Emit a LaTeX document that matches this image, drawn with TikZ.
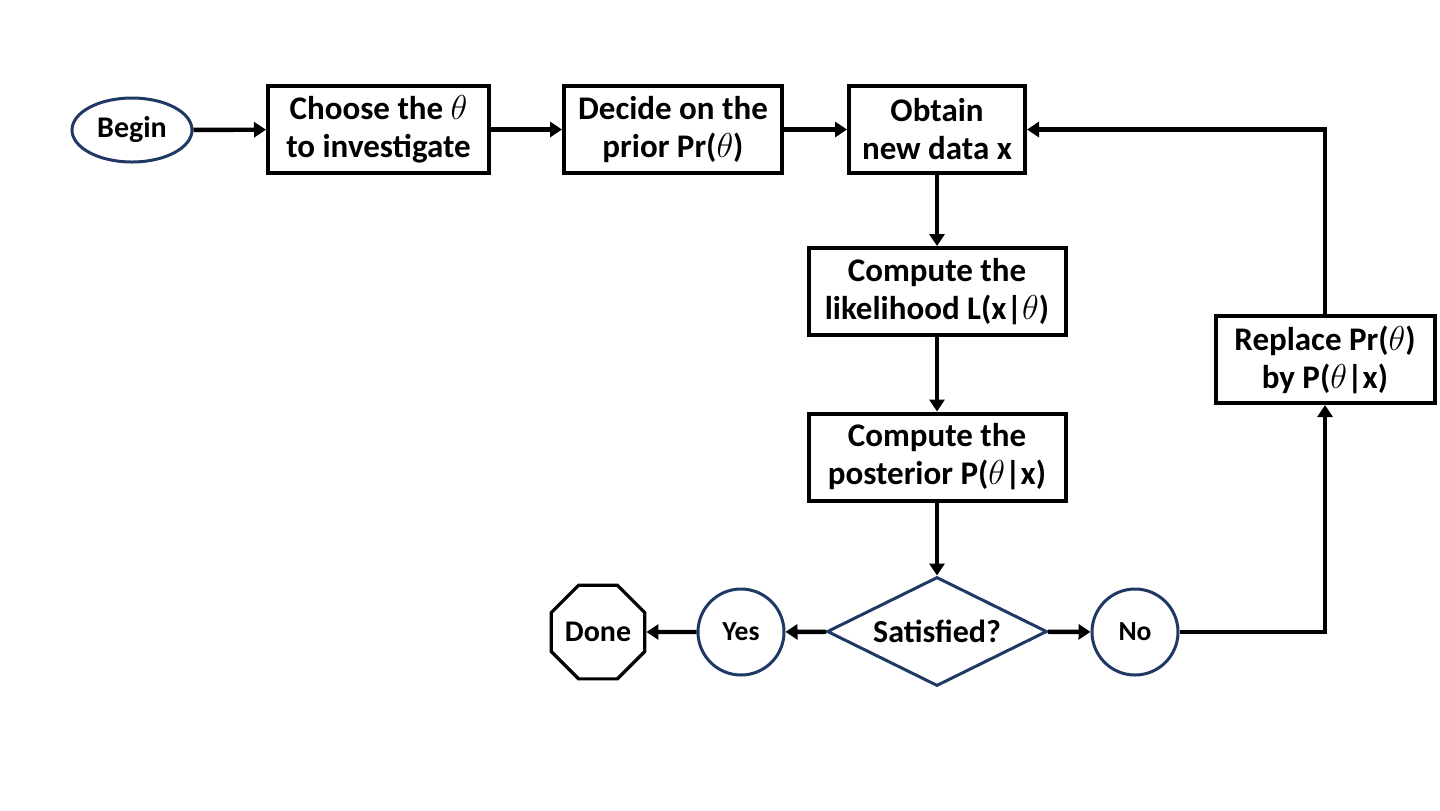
\documentclass[tikz,border=0pt]{standalone}
\usepackage{fontspec}
\setmainfont{Carlito}
\usetikzlibrary{arrows.meta,shapes.geometric,positioning}
\definecolor{navy}{HTML}{1F3864}
\begin{document}
\begin{tikzpicture}[x=0.5pt,y=-0.5pt,
  every node/.style={font=\bfseries\fontsize{16.5pt}{19pt}\selectfont, align=center, inner sep=0pt},
  stepbox/.style={draw=black, line width=2pt, rectangle, minimum height=43.5pt},
  term/.style={draw=navy, line width=1.5pt, ellipse, minimum width=60pt, minimum height=32pt,
    font=\bfseries\fontsize{15pt}{17pt}\selectfont},
  answer/.style={draw=navy, line width=1.5pt, circle, minimum size=43pt,
    font=\bfseries\fontsize{13.8pt}{16pt}\selectfont},
  decision/.style={draw=navy, line width=1.5pt, diamond, aspect=2, minimum width=110pt, minimum height=54.5pt,
    font=\bfseries\fontsize{16pt}{18pt}\selectfont},
  stop/.style={draw=black, line width=1.6pt, regular polygon, regular polygon sides=8,
    minimum size=48.7pt, font=\bfseries\fontsize{15pt}{17pt}\selectfont},
  flow/.style={line width=2.2pt, -{Triangle[length=6pt,width=7.5pt]}}
]
\useasboundingbox (0,0) rectangle (1440,810);

% top row
\node[term] (begin) at (132,130) {Begin};
\node[stepbox, minimum width=110.5pt] (choose) at (378.5,129.5) {Choose the $\theta$\\to investigate};
\node[stepbox, minimum width=109pt] (decide) at (673,129.5) {Decide on the\\prior Pr($\theta$)};
\node[stepbox, minimum width=88pt] (obtain) at (937,129.5) {Obtain\\new data x};

% central column
\node[stepbox, minimum width=128.5pt] (likelihood) at (937,291.5) {Compute the\\likelihood L(x|$\theta$)};
\node[stepbox, minimum width=128.5pt] (posterior) at (937,457) {Compute the\\posterior P($\theta$|x)};
\node[decision] (sat) at (937,631.5) {Satisfied?};

% outcomes
\node[answer] (yes) at (741,632) {Yes};
\node[stop] (done) at (598,632) {Done};
\node[answer] (no) at (1135,632) {No};
\node[stepbox, minimum width=109.5pt] (replace) at (1325,359.5) {Replace Pr($\theta$)\\by P($\theta$|x)};

% connectors
\draw[flow] (begin) -- (choose);
\draw[flow] (choose) -- (decide);
\draw[flow] (decide) -- (obtain);
\draw[flow] (obtain) -- (likelihood);
\draw[flow] (likelihood) -- (posterior);
\draw[flow] (posterior) -- (sat);
\draw[flow] (sat) -- (yes);
\draw[flow] (yes) -- (done);
\draw[flow] (sat) -- (no);
\draw[flow] (no.east) -| (replace.south);
\draw[flow] (replace.north) |- (obtain.east);
\end{tikzpicture}
\end{document}
